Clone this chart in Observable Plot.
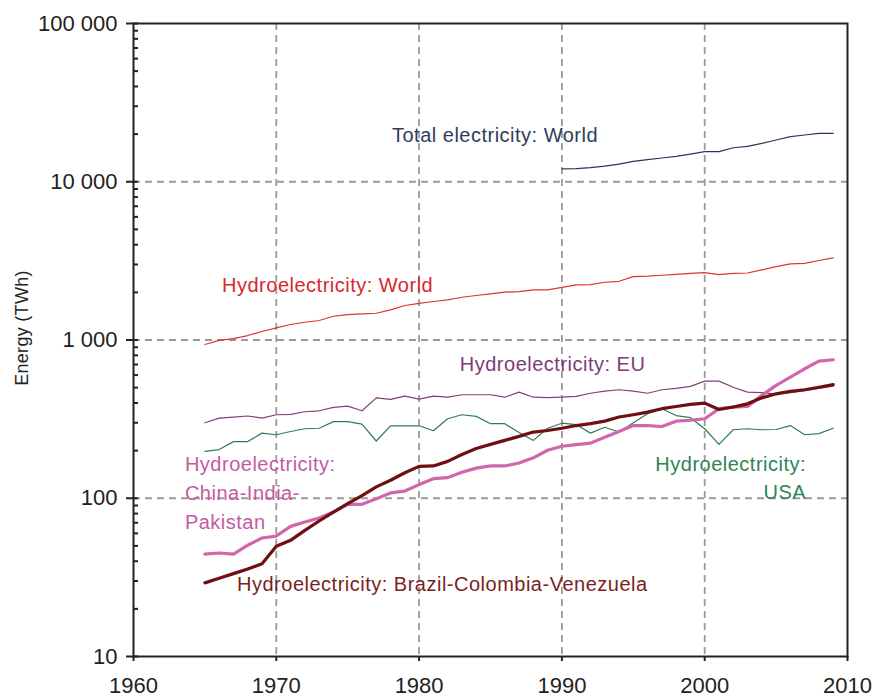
<!DOCTYPE html>
<html><head><meta charset="utf-8">
<script src="https://cdn.jsdelivr.net/npm/d3@7"></script>
<script src="https://cdn.jsdelivr.net/npm/@observablehq/plot@0.6"></script>
<style>
body{margin:0;background:#fff;}
</style></head><body><div id="chart"></div>
<script>
// ---------- data ----------
const years65 = [1965,1966,1967,1968,1969,1970,1971,1972,1973,1974,
                 1975,1976,1977,1978,1979,1980,1981,1982,1983,1984,
                 1985,1986,1987,1988,1989,1990,1991,1992,1993,1994,
                 1995,1996,1997,1998,1999,2000,2001,2002,2003,2004,
                 2005,2006,2007,2008,2009];
const years90 = [1990,1991,1992,1993,1994,1995,1996,1997,1998,1999,
                 2000,2001,2002,2003,2004,2005,2006,2007,2008,2009];

const totalWorld = [12050,12100,12270,12540,12940,13440,13790,14130,14470,14940,
                    15490,15490,16400,16720,17460,18350,19260,19740,20210,20210];
const hydroWorld = [937,994,1019,1067,1131,1194,1253,1295,1328,1413,
                    1448,1463,1476,1551,1652,1706,1751,1795,1863,1910,
                    1958,2006,2021,2076,2076,2153,2229,2240,2317,2350,
                    2516,2530,2565,2602,2640,2668,2587,2640,2650,2775,
                    2910,3026,3050,3179,3305];
const hydroEU = [300,321,326,331,321,337,339,352,357,375,
                 382,357,431,421,442,423,442,435,451,451,
                 451,435,468,435,432,435,440,461,475,485,
                 475,461,485,494,509,550,550,503,468,465,
                 455,465,478,495,510];
const hydroUSA = [198,203,228,228,258,252,264,275,277,305,
                  305,294,230,287,287,287,267,318,337,329,
                  296,296,260,232,277,298,292,258,281,262,
                  300,342,368,333,323,275,219,271,275,271,
                  272,288,252,256,277];
const hydroCIP = [44.3,45.1,44.3,50.5,56.1,57.7,66.4,70.8,75,81.8,
                  91.5,91.5,99.4,108,111,122,133,135,146,155,
                  160,160,167,180,201,213,218,223,243,264,
                  288,288,284,307,311,318,368,377,380,447,
                  517,582,658,735,750];
const hydroBCV = [29.2,31.2,33.4,35.7,38.6,49.7,54.2,62.7,71.8,81.8,
                  92.5,104,118,130,145,159,160,171,189,206,
                  219,232,246,262,268,277,288,296,307,326,
                  337,350,368,380,392,399,364,377,395,431,
                  457,473,485,503,522];

const xTicks = [1960,1970,1980,1990,2000,2010];
const xGrid = [1970,1980,1990,2000];
const yTicks = [10,100,1000,10000,100000];
const yGrid = [100,1000,10000];
const yMinor = [20,30,40,50,60,70,80,90,200,300,400,500,600,700,800,900,
                2000,3000,4000,5000,6000,7000,8000,9000,20000,30000,40000,50000,60000,70000,80000,90000];
const yTitle = "Energy (TWh)";

const seriesNames = ["Total electricity: World","Hydroelectricity: World","Hydroelectricity: EU",
                     "Hydroelectricity: USA","Hydroelectricity: China-India-Pakistan",
                     "Hydroelectricity: Brazil-Colombia-Venezuela"];
const seriesYears = [years90, years65, years65, years65, years65, years65];
const seriesValues = [totalWorld, hydroWorld, hydroEU, hydroUSA, hydroCIP, hydroBCV];

// label text lines with anchor positions in data coordinates
const labelText  = ["Total electricity: World","Hydroelectricity: World","Hydroelectricity: EU",
                    "Hydroelectricity:","China-India-","Pakistan",
                    "Hydroelectricity:","USA",
                    "Hydroelectricity: Brazil-Colombia-Venezuela"];
const labelYear  = [1978.1,1966.2,1982.85,1963.6,1963.6,1963.6,2007.1,2007.1,1967.25];
const labelValue = [19600,2218,698,162.6,107.4,70.5,162.6,108,28.3];
const labelSeries= [0,1,2,4,4,4,3,3,5];
const labelEnd   = [false,false,false,false,false,false,true,true,false];

// ---------- styles ----------
const lineColor = ["#2d355a","#dc3436","#80407a","#2f7d55","#d066ab","#6e1012"];
const textColor = ["#2f3d5a","#d6282e","#7e3b78","#2e8555","#c65a9f","#7a1f22"];
const lineWidth = [1.2,1.2,1.2,1.2,3.2,3.2];

const rows = seriesNames.flatMap((name, s) =>
  seriesYears[s].map((yr, i) => ({s, year: yr, value: seriesValues[s][i]})));
const labels = labelText.map((t, i) => ({t, year: labelYear[i], value: labelValue[i],
  s: labelSeries[i], end: labelEnd[i]}));

const locale = d3.formatLocale({decimal: ".", thousands: " ", grouping: [3], currency: ["", ""]});
const fmt = locale.format(",");

const labelOpts = {x: "year", y: "value", text: "t", fill: d => textColor[d.s], fontSize: 20, lineAnchor: "middle"};

const chart = Plot.plot({
  width: 876, height: 699,
  marginLeft: 133, marginRight: 29, marginTop: 23, marginBottom: 43,
  style: {fontFamily: "'Liberation Sans', Arial, sans-serif", fontSize: "22px", color: "#222", background: "#fff"},
  x: {domain: [1960, 2010]},
  y: {type: "log", domain: [10, 100000]},
  marks: [
    Plot.ruleY(yGrid, {stroke: "#9a9a9a", strokeWidth: 1.8, strokeDasharray: "7,5"}),
    Plot.ruleX(xGrid, {stroke: "#9a9a9a", strokeWidth: 1.8, strokeDasharray: "7,5"}),
    ...seriesNames.map((n, s) => Plot.line(rows.filter(d => d.s === s), {
      x: "year", y: "value", stroke: lineColor[s], strokeWidth: lineWidth[s], strokeLinejoin: "round"})),
    Plot.axisX({ticks: xTicks, tickSize: 5, tickFormat: () => "", label: null, strokeWidth: 2, stroke: "#222"}),
    Plot.axisX({ticks: xTicks, tickSize: 0, tickPadding: 21, tickFormat: d => String(d), label: null, fontSize: 22}),
    Plot.axisY({ticks: yTicks, tickSize: 7, tickFormat: () => "", label: null, strokeWidth: 2, stroke: "#222"}),
    Plot.axisY({ticks: yTicks, tickSize: 0, tickPadding: 16, tickFormat: fmt, label: null, fontSize: 22}),
    Plot.axisY({ticks: yTicks.concat(yMinor), tickSize: -5, tickFormat: () => "",
      label: null, strokeWidth: 2, stroke: "#222"}),
    Plot.frame({stroke: "#222", strokeWidth: 2}),
    Plot.text([yTitle], {frameAnchor: "left", dx: -111, dy: -12, rotate: -90,
      textAnchor: "middle", fontSize: 18, fill: "#222"}),
    Plot.text(labels.filter(d => !d.end), {...labelOpts, textAnchor: "start"}),
    Plot.text(labels.filter(d => d.end), {...labelOpts, textAnchor: "end"})
  ]
});
d3.select(chart).selectAll('g[aria-label="text"] text').style("letter-spacing", "0.5px");
d3.select(chart).selectAll('g[aria-label="text"] text')
  .filter(function() { return this.textContent === yTitle; })
  .style("font-size", "18px").style("letter-spacing", "0.3px");
document.getElementById("chart").appendChild(chart);
</script>
</body></html>
